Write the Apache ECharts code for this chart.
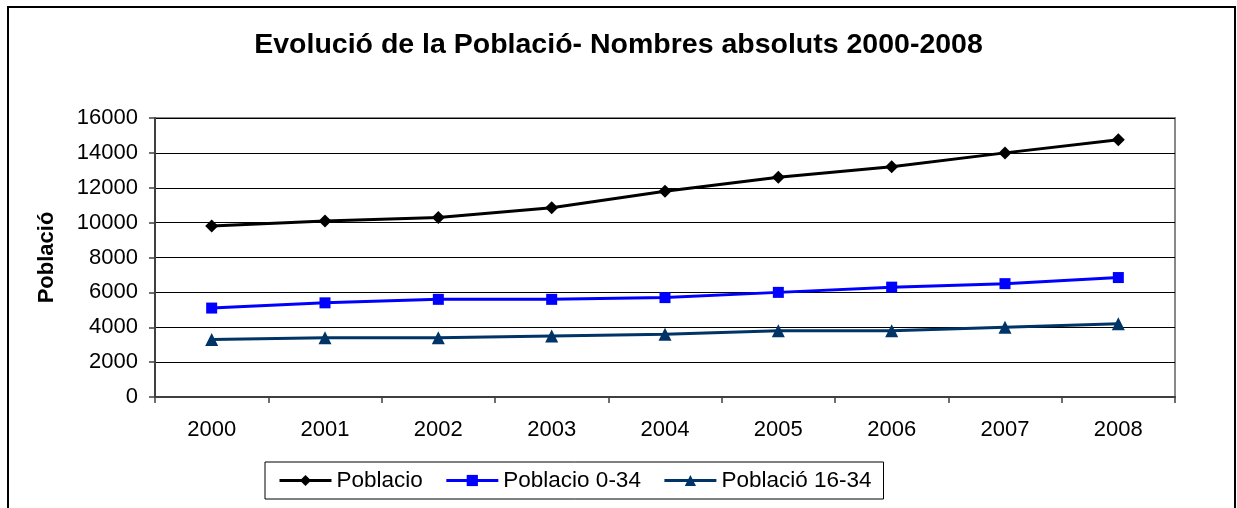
<!DOCTYPE html>
<html>
<head>
<meta charset="utf-8">
<script src="https://cdn.jsdelivr.net/npm/echarts@6/dist/echarts.min.js"></script>
<style>
html,body{margin:0;padding:0;background:#fff;}
#chart{width:1237px;height:508px;}
</style>
</head>
<body>
<div id="chart"></div>
<script>
const years = ['2000','2001','2002','2003','2004','2005','2006','2007','2008'];
const poblacio = [9800, 10100, 10300, 10850, 11800, 12600, 13200, 14000, 14750];
const poblacio034 = [5100, 5400, 5600, 5600, 5700, 6000, 6300, 6500, 6850];
const poblacio1634 = [3300, 3400, 3400, 3500, 3600, 3800, 3800, 4000, 4200];
const seriesNames = ['Poblacio', 'Poblacio 0-34', 'Població 16-34'];
const titleText = 'Evolució de la Població- Nombres absoluts 2000-2008';
const yAxisName = 'Població';

const FONT = 'Arial, "Liberation Sans", sans-serif';
const chart = echarts.init(document.getElementById('chart'), null, {renderer: 'canvas'});
chart.setOption({
  animation: false,
  backgroundColor: '#fff',
  graphic: [{
    type: 'rect', silent: true, z: 0,
    shape: {x: 8, y: 7, width: 1227, height: 520},
    style: {fill: 'none', stroke: '#000', lineWidth: 2}
  }],
  title: {
    text: titleText, left: 'center', top: 31, padding: 0,
    textStyle: {fontFamily: FONT, fontSize: 28.5, fontWeight: 'bold', color: '#000'}
  },
  legend: {
    left: 265, top: 462,
    padding: [7, 12, 7, 13],
    itemGap: 22, itemWidth: 52, itemHeight: 14,
    backgroundColor: '#fff', borderColor: '#000', borderWidth: 1,
    lineStyle: {width: 3},
    textStyle: {fontFamily: FONT, fontSize: 22.5, color: '#000'},
    data: seriesNames
  },
  grid: {left: 155, right: 62, top: 118, bottom: 111, show: true, borderColor: '#888', borderWidth: 2, containLabel: false},
  xAxis: {
    type: 'category', data: years, boundaryGap: true,
    axisLine: {lineStyle: {color: '#404040', width: 2}},
    axisTick: {show: true, length: 6, lineStyle: {color: '#404040', width: 1.5}},
    axisLabel: {fontFamily: FONT, fontSize: 22, color: '#000', margin: 22},
    splitLine: {show: false}
  },
  yAxis: {
    type: 'value', min: 0, max: 16000, interval: 2000,
    name: yAxisName, nameLocation: 'middle', nameGap: 97, nameRotate: 90,
    nameTextStyle: {fontFamily: FONT, fontSize: 22, fontWeight: 'bold', color: '#000'},
    axisLine: {show: true, lineStyle: {color: '#404040', width: 2}},
    axisTick: {show: true, length: 6, lineStyle: {color: '#404040', width: 1.5}},
    axisLabel: {fontFamily: FONT, fontSize: 22, color: '#000', margin: 17,
      formatter: function (v) { return String(v); }},
    splitLine: {show: true, lineStyle: {color: '#000', width: 1}}
  },
  series: [
    {name: seriesNames[0], type: 'line', data: poblacio, symbol: 'diamond', symbolSize: 13,
     lineStyle: {color: '#000', width: 3}, itemStyle: {color: '#000'}},
    {name: seriesNames[1], type: 'line', data: poblacio034, symbol: 'rect', symbolSize: 11,
     lineStyle: {color: '#0000FF', width: 3}, itemStyle: {color: '#0000FF'}},
    {name: seriesNames[2], type: 'line', data: poblacio1634, symbol: 'triangle', symbolSize: 13,
     lineStyle: {color: '#003366', width: 3}, itemStyle: {color: '#003366'}}
  ]
});
</script>
</body>
</html>
